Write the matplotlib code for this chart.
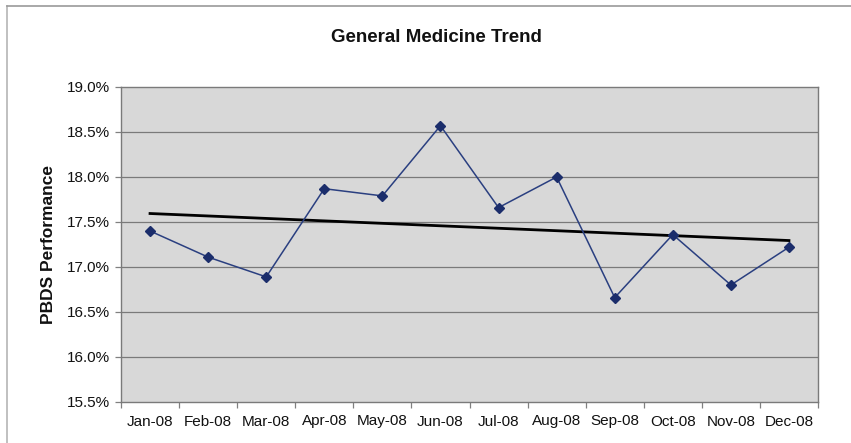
import numpy as np
import matplotlib
matplotlib.use("Agg")
import matplotlib.pyplot as plt
from matplotlib.ticker import FuncFormatter, FixedLocator
from matplotlib.lines import Line2D

plt.rcParams['font.family'] = ['Liberation Sans', 'DejaVu Sans']

months = ["Jan-08", "Feb-08", "Mar-08", "Apr-08", "May-08", "Jun-08",
          "Jul-08", "Aug-08", "Sep-08", "Oct-08", "Nov-08", "Dec-08"]
performance = [17.40, 17.11, 16.89, 17.87, 17.79, 18.57,
               17.66, 18.00, 16.66, 17.36, 16.80, 17.22]
y_ticks = [15.5, 16.0, 16.5, 17.0, 17.5, 18.0, 18.5, 19.0]

fig = plt.figure(figsize=(8.51, 4.43), dpi=100)
fig.patch.set_facecolor("white")

# thin frame around the chart area
fig.add_artist(Line2D([7 / 851, 7 / 851], [0, 1 - 6 / 443], transform=fig.transFigure,
                      color="#b5b5b5", lw=1.2))
fig.add_artist(Line2D([7 / 851, 1], [1 - 6 / 443, 1 - 6 / 443], transform=fig.transFigure,
                      color="#9a9a9a", lw=1.2))

ax = fig.add_axes([121 / 851, 1 - 402 / 443, (818 - 121) / 851, (402 - 87) / 443])
ax.set_facecolor("#d8d8d8")

x = np.arange(len(months))

# linear trend line
coef = np.polyfit(x, performance, 1)
trend = np.polyval(coef, x)

for yv in y_ticks[1:-1]:
    ax.axhline(yv, color="#7a7a7a", lw=0.9, zorder=1)

ax.plot(x, trend, color="black", lw=2.0, zorder=3)
ax.plot(x, performance, color="#2a3f80", lw=1.1, marker="D", markersize=5,
        markerfacecolor="#1b2d6b", markeredgecolor="#1b2d6b", zorder=4)

ax.set_xlim(-0.5, len(months) - 0.5)
ax.set_ylim(y_ticks[0], y_ticks[-1])

ax.yaxis.set_major_locator(FixedLocator(y_ticks))
ax.yaxis.set_major_formatter(FuncFormatter(lambda v, p: f"{v:.1f}%"))

ax.set_xticks(x)
ax.set_xticklabels(months)
ax.xaxis.set_minor_locator(FixedLocator(np.arange(-0.5, len(months), 1.0)))
ax.tick_params(axis="x", which="major", length=0, pad=9, labelsize=11, colors="#111111")
ax.tick_params(axis="x", which="minor", length=4, width=0.9, color="#808080", direction="out")
ax.tick_params(axis="y", length=4, width=0.9, color="#808080", pad=4, labelsize=11,
               labelcolor="#111111")

for s in ax.spines.values():
    s.set_color("#7a7a7a")
    s.set_linewidth(1.0)

ax.set_ylabel("PBDS Performance", fontsize=12.5, fontweight="bold", labelpad=8,
              color="#111111")
fig.text(436 / 851, 1 - 38 / 443, "General Medicine Trend", ha="center", va="center",
         fontsize=13.5, fontweight="bold", color="#111111")

fig.savefig("out.png", dpi=100)
